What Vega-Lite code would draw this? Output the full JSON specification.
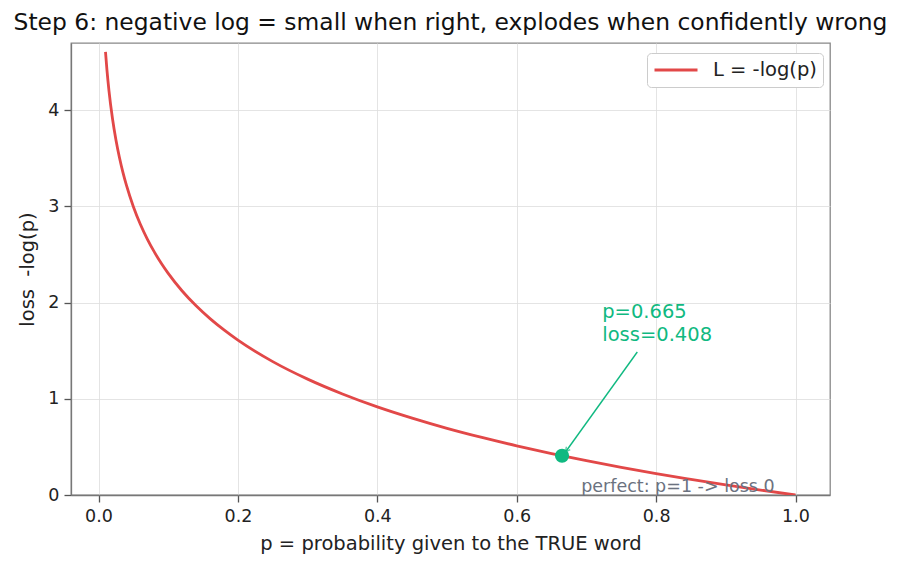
{
  "$schema": "https://vega.github.io/schema/vega-lite/v6.json",
  "autosize": {"type": "none"},
  "padding": {"left": 71, "top": 43, "right": 71, "bottom": 74},
  "width": 759,
  "height": 452,
  "background": "white",
  "title": {"text": "Step 6: negative log = small when right, explodes when confidently wrong", "fontSize": 23.4, "font": "DejaVu Sans", "fontWeight": "normal", "color": "#111", "anchor": "middle", "offset": 8},
  "config": {
    "font": "DejaVu Sans",
    "view": {"stroke": "#888", "strokeWidth": 1.3},
    "axis": {"labelFont": "DejaVu Sans", "titleFont": "DejaVu Sans", "labelFontSize": 17.5, "titleFontSize": 19.5, "titleFontWeight": "normal", "labelColor": "#222", "titleColor": "#222", "tickColor": "#555", "tickSize": 7, "tickWidth": 1.3, "domainColor": "#777", "domainWidth": 1.3, "gridColor": "#dddddd", "gridWidth": 0.8, "labelPadding": 5}
  },
  "layer": [
    {
      "data": {"values": [
        {"p": 0.01, "loss": 4.605, "s": "L = -log(p)"},
        {"p": 0.012, "loss": 4.423, "s": "L = -log(p)"},
        {"p": 0.015, "loss": 4.200, "s": "L = -log(p)"},
        {"p": 0.02, "loss": 3.912, "s": "L = -log(p)"},
        {"p": 0.025, "loss": 3.689, "s": "L = -log(p)"},
        {"p": 0.03, "loss": 3.507, "s": "L = -log(p)"},
        {"p": 0.035, "loss": 3.352, "s": "L = -log(p)"},
        {"p": 0.04, "loss": 3.219, "s": "L = -log(p)"},
        {"p": 0.05, "loss": 2.996, "s": "L = -log(p)"},
        {"p": 0.06, "loss": 2.813, "s": "L = -log(p)"},
        {"p": 0.07, "loss": 2.659, "s": "L = -log(p)"},
        {"p": 0.08, "loss": 2.526, "s": "L = -log(p)"},
        {"p": 0.09, "loss": 2.408, "s": "L = -log(p)"},
        {"p": 0.1, "loss": 2.303, "s": "L = -log(p)"},
        {"p": 0.12, "loss": 2.120, "s": "L = -log(p)"},
        {"p": 0.14, "loss": 1.966, "s": "L = -log(p)"},
        {"p": 0.16, "loss": 1.833, "s": "L = -log(p)"},
        {"p": 0.18, "loss": 1.715, "s": "L = -log(p)"},
        {"p": 0.2, "loss": 1.609, "s": "L = -log(p)"},
        {"p": 0.25, "loss": 1.386, "s": "L = -log(p)"},
        {"p": 0.3, "loss": 1.204, "s": "L = -log(p)"},
        {"p": 0.35, "loss": 1.050, "s": "L = -log(p)"},
        {"p": 0.4, "loss": 0.916, "s": "L = -log(p)"},
        {"p": 0.45, "loss": 0.799, "s": "L = -log(p)"},
        {"p": 0.5, "loss": 0.693, "s": "L = -log(p)"},
        {"p": 0.55, "loss": 0.598, "s": "L = -log(p)"},
        {"p": 0.6, "loss": 0.511, "s": "L = -log(p)"},
        {"p": 0.65, "loss": 0.431, "s": "L = -log(p)"},
        {"p": 0.7, "loss": 0.357, "s": "L = -log(p)"},
        {"p": 0.75, "loss": 0.288, "s": "L = -log(p)"},
        {"p": 0.8, "loss": 0.223, "s": "L = -log(p)"},
        {"p": 0.85, "loss": 0.163, "s": "L = -log(p)"},
        {"p": 0.9, "loss": 0.105, "s": "L = -log(p)"},
        {"p": 0.95, "loss": 0.051, "s": "L = -log(p)"},
        {"p": 1.0, "loss": 0.0, "s": "L = -log(p)"}
      ]},
      "mark": {"type": "line", "strokeWidth": 2.8, "interpolate": "monotone", "clip": true},
      "encoding": {
        "x": {"field": "p", "type": "quantitative", "scale": {"domain": [-0.0395, 1.0495], "nice": false, "zero": false}, "axis": {"values": [0, 0.2, 0.4, 0.6, 0.8, 1.0], "format": ".1f", "title": "p = probability given to the TRUE word", "titlePadding": 10}},
        "y": {"field": "loss", "type": "quantitative", "scale": {"domain": [0, 4.697], "nice": false}, "axis": {"values": [0, 1, 2, 3, 4], "format": "d", "title": "loss\u00a0\u00a0-log(p)", "titlePadding": 10}},
        "color": {"field": "s", "type": "nominal", "scale": {"domain": ["L = -log(p)"], "range": ["#e24848"]}, "legend": {"title": null, "orient": "none", "legendX": 576, "legendY": 10, "symbolType": "stroke", "symbolSize": 1849, "symbolStrokeWidth": 2.8, "clipHeight": 22, "labelFontSize": 19.5, "labelColor": "#222", "labelFont": "DejaVu Sans", "labelOffset": 14, "padding": 6, "strokeColor": "#cccccc", "fillColor": "white", "cornerRadius": 4}}
      }
    },
    {
      "data": {"values": [{"x1": 0.773, "y1": 1.486, "x2": 0.670, "y2": 0.447}]},
      "mark": {"type": "rule", "color": "#10b981", "strokeWidth": 1.4},
      "encoding": {
        "x": {"field": "x1", "type": "quantitative"},
        "y": {"field": "y1", "type": "quantitative"},
        "x2": {"field": "x2"},
        "y2": {"field": "y2"}
      }
    },
    {
      "data": {"values": [{"x": 0.670, "y": 0.447}]},
      "mark": {"type": "point", "shape": "M -0.5 1 L 0 0 L 0.5 1", "filled": false, "stroke": "#10b981", "strokeWidth": 1.4, "size": 90, "angle": 215.8},
      "encoding": {
        "x": {"field": "x", "type": "quantitative"},
        "y": {"field": "y", "type": "quantitative"}
      }
    },
    {
      "data": {"values": [{"p": 0.665, "loss": 0.408}]},
      "mark": {"type": "circle", "color": "#10b981", "opacity": 1, "size": 200},
      "encoding": {
        "x": {"field": "p", "type": "quantitative"},
        "y": {"field": "loss", "type": "quantitative"}
      }
    },
    {
      "data": {"values": [{"x": 0.7227, "y": 1.995, "t": "p=0.665\nloss=0.408"}]},
      "mark": {"type": "text", "align": "left", "baseline": "top", "fontSize": 19.5, "color": "#10b981", "lineBreak": "\n", "lineHeight": 22.5},
      "encoding": {
        "x": {"field": "x", "type": "quantitative"},
        "y": {"field": "y", "type": "quantitative"},
        "text": {"field": "t"}
      }
    },
    {
      "data": {"values": [{"x": 0.6925, "y": 0.031, "t": "perfect: p=1 -> loss 0"}]},
      "mark": {"type": "text", "align": "left", "baseline": "alphabetic", "fontSize": 17.5, "color": "#6b7280"},
      "encoding": {
        "x": {"field": "x", "type": "quantitative"},
        "y": {"field": "y", "type": "quantitative"},
        "text": {"field": "t"}
      }
    }
  ]
}
